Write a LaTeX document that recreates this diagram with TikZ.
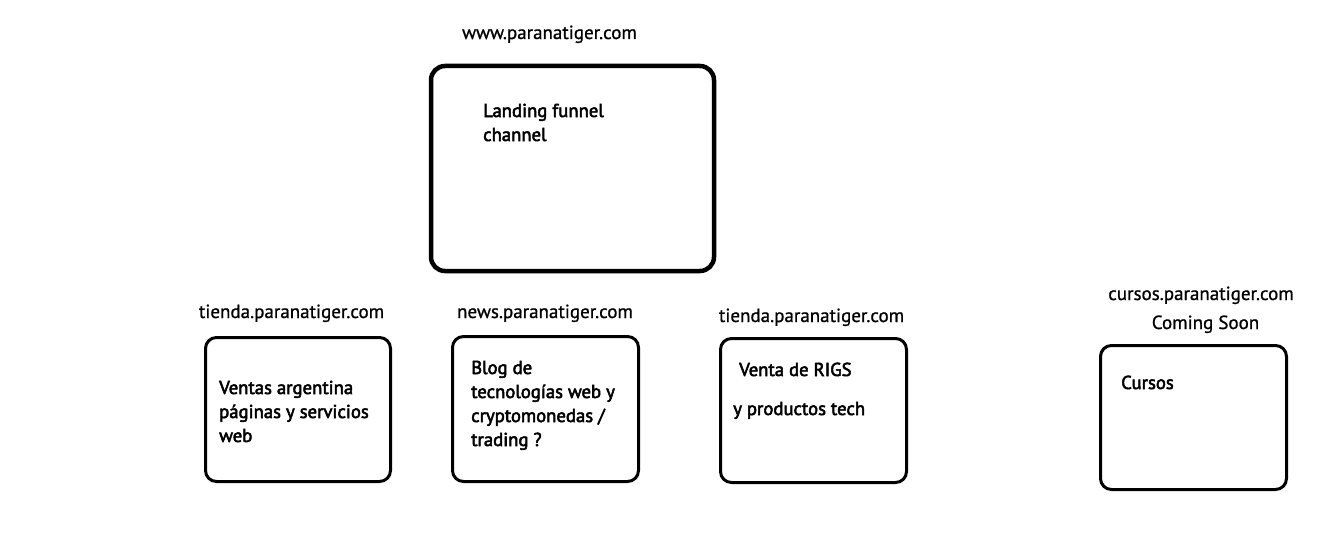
\documentclass[tikz,border=0pt]{standalone}
\usepackage{fontspec}
\setmainfont{PT Sans}
\newfontfamily\hdfont{PT Sans}[FakeBold=0.9]
\newfontfamily\bxfont{PT Sans}[FakeBold=2.8]
\begin{document}
\begin{tikzpicture}[x=1pt,y=-1pt,
  bigbox/.style={draw=black,line width=4.5pt,rounded corners=14pt},
  smallbox/.style={draw=black,line width=3pt,rounded corners=11pt},
  hdr/.style={inner sep=0pt,anchor=base,font=\hdfont\fontsize{19}{22}\selectfont},
  txt/.style={inner sep=0pt,anchor=base west,font=\bxfont\fontsize{18.7}{22}\selectfont}]
\useasboundingbox[fill=white] (0,0) rectangle (1338,543);
\draw[bigbox] (431,66) rectangle (714,271);
\draw[smallbox] (205.5,337.5) rectangle (390.5,481.5);
\draw[smallbox] (452.5,336.5) rectangle (638.5,481.5);
\draw[smallbox] (720.5,338.5) rectangle (906.5,482.5);
\draw[smallbox] (1100.5,345.5) rectangle (1286.5,489.5);
\node[hdr] (h0) at (549.5,39) {www.paranatiger.com};
\node[hdr] (h1) at (291.5,318) {tienda.paranatiger.com};
\node[hdr] (h2) at (545,318) {news.paranatiger.com};
\node[hdr] (h3) at (811.5,322) {tienda.paranatiger.com};
\node[hdr] (h4) at (1201,300) {cursos.paranatiger.com};
\node[hdr] (h5) at (1205.5,329) {Coming Soon};
\node[txt] (t0a) at (483,117) {Landing funnel};
\node[txt] (t0b) at (483,141) {channel};
\node[txt] (t1a) at (219,394) {Ventas argentina};
\node[txt] (t1b) at (219,418) {páginas y servicios};
\node[txt] (t1c) at (219,442) {web};
\node[txt] (t2a) at (471,374) {Blog de};
\node[txt] (t2b) at (471,398) {tecnologías web y};
\node[txt] (t2c) at (471,422) {cryptomonedas /};
\node[txt] (t2d) at (471,446) {trading ?};
\node[txt] (t3a) at (739,376) {Venta de RIGS};
\node[txt] (t3b) at (733,415) {y productos tech};
\node[txt] (t4a) at (1121,389) {Cursos};
\end{tikzpicture}
\end{document}
